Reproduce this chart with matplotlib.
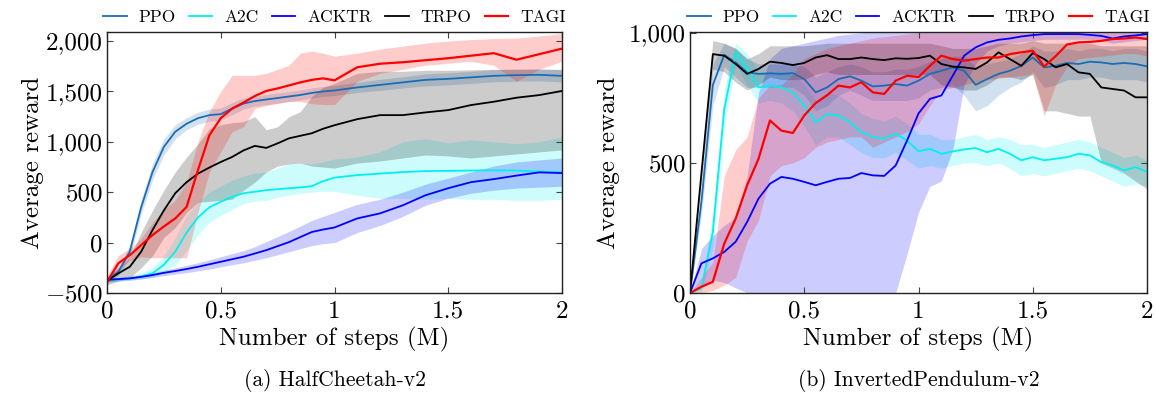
import numpy as np
import matplotlib
matplotlib.use('Agg')
import matplotlib.pyplot as plt

plt.rcParams['font.family'] = 'cmr10'
plt.rcParams['mathtext.fontset'] = 'cm'
plt.rcParams['axes.formatter.use_mathtext'] = True

# ---- HalfCheetah-v2 (left) ----
x_hc = [0, .05, .1, .15, .2, .25, .3, .35, .4, .45, .5, .55, .6, .65, .7, .75, .8, .85, .9, .95, 1.0,
        1.1, 1.2, 1.3, 1.4, 1.5, 1.6, 1.7, 1.8, 1.9, 2.0]

ppo_hc = [-370, -290, -90, 350, 700, 950, 1100, 1180, 1235, 1265, 1275, 1330, 1380, 1405, 1420, 1435, 1450, 1465, 1485, 1500, 1510,
          1540, 1565, 1590, 1615, 1625, 1640, 1655, 1662, 1665, 1655]
ppo_hc_hi = [-350, -250, -30, 420, 780, 1030, 1170, 1240, 1295, 1325, 1335, 1390, 1435, 1455, 1470, 1485, 1500, 1515, 1535, 1550, 1560,
             1590, 1620, 1645, 1675, 1685, 1700, 1715, 1722, 1725, 1715]
ppo_hc_lo = [-390, -330, -150, 280, 620, 870, 1030, 1120, 1175, 1205, 1215, 1270, 1325, 1355, 1370, 1385, 1400, 1415, 1435, 1450, 1460,
             1490, 1510, 1535, 1555, 1565, 1580, 1595, 1602, 1605, 1595]

a2c_hc = [-370, -365, -355, -335, -305, -220, -90, 100, 250, 350, 405, 455, 490, 505, 520, 530, 540, 548, 560, 610, 645,
          670, 685, 700, 710, 712, 715, 718, 715, 705, 700]
a2c_hc_hi = [-350, -345, -330, -300, -250, -130, 50, 270, 400, 500, 560, 620, 660, 690, 700, 740, 780, 790, 780, 800, 830,
             850, 900, 1000, 1030, 990, 1020, 1000, 980, 1000, 1050]
a2c_hc_lo = [-390, -385, -375, -365, -345, -300, -220, -80, 80, 200, 270, 330, 390, 410, 420, 450, 470, 490, 500, 510, 510,
             470, 440, 440, 430, 440, 430, 430, 420, 420, 430]

acktr_hc = [-370, -362, -355, -340, -322, -300, -282, -262, -240, -215, -190, -165, -140, -108, -75, -35, 5, 55, 105, 130, 150,
            240, 290, 370, 470, 540, 600, 630, 665, 697, 690]
acktr_hc_hi = [-350, -345, -335, -320, -300, -275, -250, -225, -200, -170, -140, -110, -80, -40, 10, 60, 110, 165, 220, 260, 300,
               380, 430, 500, 580, 640, 700, 760, 800, 820, 840]
acktr_hc_lo = [-390, -380, -372, -360, -345, -328, -312, -298, -280, -262, -240, -220, -200, -175, -150, -120, -90, -60, -30, -10, 0,
               100, 170, 260, 370, 440, 490, 520, 540, 550, 560]

trpo_hc = [-380, -305, -240, -90, 125, 320, 490, 600, 685, 745, 800, 850, 915, 960, 940, 985, 1035, 1060, 1085, 1130, 1165,
           1225, 1265, 1265, 1292, 1315, 1365, 1398, 1438, 1464, 1505]
trpo_hc_hi = [-340, -250, -150, 100, 320, 520, 700, 850, 980, 1130, 1170, 1190, 1200, 1250, 1120, 1150, 1250, 1300, 1450, 1540, 1580,
              1680, 1700, 1700, 1710, 1710, 1715, 1720, 1720, 1720, 1720]
trpo_hc_lo = [-420, -380, -350, -250, -130, 50, 150, 300, 400, 410, 420, 430, 520, 600, 700, 760, 780, 790, 760, 750, 740,
              790, 810, 840, 870, 860, 840, 860, 880, 900, 920]

tagi_hc = [-390, -205, -125, -25, 75, 160, 240, 355, 720, 1065, 1235, 1330, 1390, 1455, 1505, 1530, 1560, 1590, 1615, 1630, 1610,
           1740, 1775, 1790, 1810, 1830, 1855, 1880, 1815, 1870, 1925]
tagi_hc_hi = [-330, -130, -60, 40, 200, 330, 420, 600, 1000, 1300, 1500, 1660, 1660, 1660, 1680, 1720, 1760, 1880, 1900, 1880, 1850,
              1880, 1920, 1950, 1980, 2000, 2015, 2025, 2030, 2050, 2075]
tagi_hc_lo = [-420, -260, -180, -140, -150, -150, -150, -150, 300, 700, 900, 1100, 1150, 1330, 1360, 1380, 1400, 1400, 1380, 1370, 1370,
              1600, 1680, 1720, 1760, 1780, 1800, 1760, 1600, 1720, 1800]

# ---- InvertedPendulum-v2 (right) ----
x_ip = [0, .05, .1, .15, .2, .25, .3, .35, .4, .45, .5, .55, .6, .65, .7, .75, .8, .85, .9, .95, 1.0,
        1.05, 1.1, 1.15, 1.2, 1.25, 1.3, 1.35, 1.4, 1.45, 1.5, 1.55, 1.6, 1.65, 1.7, 1.75, 1.8, 1.85, 1.9, 1.95, 2.0]

ppo_ip = [0, 350, 800, 915, 886, 848, 842, 844, 842, 845, 822, 771, 790, 822, 833, 816, 794, 797, 803, 797, 816,
          842, 854, 867, 854, 800, 822, 842, 854, 873, 905, 867, 873, 884, 880, 889, 886, 880, 884, 880, 871]
ppo_ip_hi = [0, 400, 880, 960, 940, 900, 880, 880, 880, 880, 870, 830, 850, 870, 880, 870, 850, 850, 860, 860, 870,
             890, 900, 910, 910, 870, 880, 890, 900, 920, 950, 930, 930, 940, 930, 940, 940, 930, 940, 940, 930]
ppo_ip_lo = [0, 300, 720, 870, 830, 790, 790, 790, 790, 790, 760, 700, 720, 760, 780, 760, 740, 740, 740, 740, 750,
             780, 790, 800, 760, 700, 720, 760, 790, 810, 850, 790, 800, 820, 820, 830, 830, 820, 820, 820, 810]

a2c_ip = [0, 18, 235, 707, 925, 861, 790, 797, 790, 771, 720, 656, 688, 682, 656, 618, 599, 593, 612, 586, 545,
          554, 535, 544, 552, 557, 541, 554, 535, 510, 522, 510, 516, 522, 535, 529, 503, 490, 471, 484, 465]
a2c_ip_hi = [0, 30, 300, 780, 960, 920, 850, 850, 850, 840, 800, 740, 770, 760, 730, 690, 670, 660, 680, 650, 610,
             610, 590, 590, 600, 610, 590, 600, 590, 570, 570, 560, 570, 580, 590, 580, 560, 540, 520, 530, 510]
a2c_ip_lo = [0, 5, 170, 640, 880, 800, 730, 740, 730, 700, 640, 570, 600, 600, 570, 540, 520, 520, 540, 510, 480,
             490, 480, 490, 500, 500, 490, 500, 480, 450, 460, 450, 460, 470, 480, 470, 450, 430, 410, 420, 410]

acktr_ip = [0, 114, 133, 158, 197, 273, 363, 420, 446, 439, 427, 414, 427, 439, 442, 461, 452, 450, 490, 586, 690,
            746, 759, 835, 912, 944, 963, 973, 978, 986, 991, 995, 995, 995, 995, 992, 988, 978, 986, 990, 995]
acktr_ip_hi = [0, 170, 220, 260, 290, 450, 770, 900, 940, 950, 960, 970, 980, 990, 995, 1000, 1005, 1005, 1005, 1005, 1005,
               1005, 1005, 1005, 1005, 1005, 1005, 1005, 1005, 1005, 1005, 1005, 1005, 1005, 1005, 1005, 1005, 1005, 1005, 1005, 1005]
acktr_ip_lo = [0, 20, 50, 40, 20, 0, 0, 0, 0, 0, 0, 0, 0, 0, 0, 0, 0, 0, 0, 150, 310,
               410, 430, 550, 800, 880, 930, 950, 960, 965, 970, 975, 975, 975, 975, 975, 970, 960, 965, 970, 975]

trpo_ip = [0, 460, 918, 912, 880, 842, 861, 889, 884, 876, 884, 905, 914, 899, 899, 905, 899, 895, 902, 900, 903,
           912, 880, 870, 867, 861, 886, 925, 899, 873, 922, 899, 867, 880, 848, 842, 790, 784, 778, 752, 752]
trpo_ip_hi = [0, 500, 970, 960, 940, 900, 920, 950, 950, 950, 950, 955, 960, 960, 960, 960, 960, 960, 960, 960, 960,
              960, 950, 940, 940, 940, 950, 960, 960, 960, 970, 960, 960, 960, 960, 960, 950, 950, 950, 950, 950]
trpo_ip_lo = [0, 420, 860, 850, 810, 780, 800, 830, 820, 820, 820, 840, 850, 840, 840, 840, 840, 840, 840, 840, 840,
              840, 800, 790, 780, 780, 800, 830, 830, 820, 840, 700, 700, 690, 680, 680, 500, 480, 460, 430, 400]

tagi_ip = [0, 24, 43, 190, 286, 414, 516, 663, 624, 615, 682, 730, 760, 797, 790, 810, 771, 765, 816, 835, 830,
           873, 912, 899, 893, 899, 905, 905, 918, 925, 931, 870, 910, 955, 963, 965, 969, 976, 978, 982, 976]
tagi_ip_hi = [0, 60, 120, 450, 550, 600, 750, 800, 800, 840, 900, 920, 940, 950, 960, 970, 980, 985, 990, 995, 1000,
              1000, 1000, 1000, 1000, 1000, 1000, 1000, 1000, 1000, 1000, 1000, 1000, 1000, 1000, 1000, 1000, 1000, 1000, 1000, 1000]
tagi_ip_lo = [0, 0, 10, 30, 60, 200, 280, 450, 490, 500, 520, 560, 580, 590, 600, 600, 560, 580, 600, 620, 650,
              720, 780, 790, 800, 810, 820, 825, 830, 835, 840, 680, 800, 870, 900, 905, 910, 915, 920, 920, 910]

names = ['PPO', 'A2C', 'ACKTR', 'TRPO', 'TAGI']
colors = ['#1b6db3', '#00f0f0', '#0000ff', '#000000', '#ff0000']


def draw_panel(ax, x, series, ylim, yticks, ylabels, caption):
	for (m, hi, lo), name, c in zip(series, names, colors):
		ax.fill_between(x, lo, hi, color=c, alpha=0.2, linewidth=0)
	for (m, hi, lo), name, c in zip(series, names, colors):
		lw = 1.6 if name == 'TAGI' else 1.3
		ax.plot(x, m, color=c, lw=lw, label=name)

	ax.set_xlim(0, 2)
	ax.set_ylim(*ylim)
	ax.set_xticks([0, 0.5, 1, 1.5, 2])
	ax.set_xticklabels(['0', '0.5', '1', '1.5', '2'])
	ax.set_yticks(yticks)
	ax.set_yticklabels(ylabels)
	ax.tick_params(direction='in', top=True, right=True, length=4, width=0.8,
				   colors='#444444', labelcolor='black', labelsize=18)
	ax.tick_params(axis='x', pad=5.5)
	ax.tick_params(axis='y', pad=3)
	for s in ax.spines.values():
		s.set_linewidth(1.0)
		s.set_color('#222222')

	ax.set_xlabel('Number of steps (M)', fontsize=18)
	ax.xaxis.set_label_coords(0.5, -0.13)
	ax.set_ylabel('Average reward', fontsize=18, va='center')

	ax.legend(loc='lower center', bbox_to_anchor=(0.5, 0.995), ncol=5, frameon=False,
			  fontsize=12.5, handlelength=1.35, columnspacing=0.75, handletextpad=0.7, borderaxespad=0.1)

	pos = ax.get_position()
	plt.gcf().text((pos.x0 + pos.x1) / 2, 0.035, caption, ha='center', va='center', fontsize=15.5)


fig = plt.figure(figsize=(11.56, 3.94), dpi=100)
ax1 = fig.add_axes([107 / 1156, 1 - 293 / 394, 455 / 1156, 261 / 394])
ax2 = fig.add_axes([690 / 1156, 1 - 293 / 394, 457 / 1156, 261 / 394])

draw_panel(ax1, x_hc,
		   [(ppo_hc, ppo_hc_hi, ppo_hc_lo), (a2c_hc, a2c_hc_hi, a2c_hc_lo), (acktr_hc, acktr_hc_hi, acktr_hc_lo),
			(trpo_hc, trpo_hc_hi, trpo_hc_lo), (tagi_hc, tagi_hc_hi, tagi_hc_lo)],
		   (-500, 2090), [-500, 0, 500, 1000, 1500, 2000],
		   ['$-$500', '0', '500', '1,000', '1,500', '2,000'], '(a) HalfCheetah-v2')
ax1.yaxis.set_label_coords(-0.163, 0.5)

draw_panel(ax2, x_ip,
		   [(ppo_ip, ppo_ip_hi, ppo_ip_lo), (a2c_ip, a2c_ip_hi, a2c_ip_lo), (acktr_ip, acktr_ip_hi, acktr_ip_lo),
			(trpo_ip, trpo_ip_hi, trpo_ip_lo), (tagi_ip, tagi_ip_hi, tagi_ip_lo)],
		   (0, 1003), [0, 500, 1000], ['0', '500', '1,000'], '(b) InvertedPendulum-v2')
ax2.yaxis.set_label_coords(-0.178, 0.5)

fig.savefig('out.png', dpi=100)
